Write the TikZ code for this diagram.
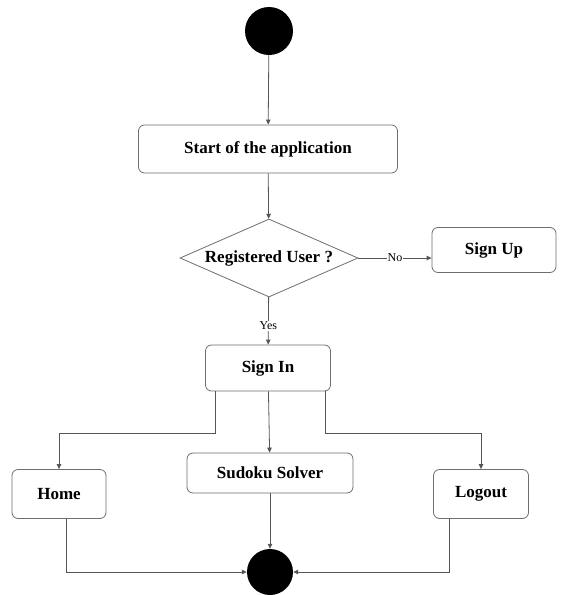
\documentclass[tikz,border=0pt]{standalone}
\usepackage{fontspec}
\setmainfont{Liberation Serif}
\usetikzlibrary{arrows.meta,shapes.geometric}
\definecolor{lineGray}{HTML}{555555}
\definecolor{boxGray}{HTML}{6E6E6E}
\tikzset{
  arr/.style={-{Triangle[length=5pt,width=4.5pt]}, line width=0.8pt, lineGray},
  state/.style={draw=boxGray, fill=white, rounded corners=6pt, line width=0.8pt,
    inner sep=0pt, align=center, font=\fontsize{17}{20}\selectfont\bfseries},
  decision/.style={diamond, draw=boxGray, fill=white, line width=0.8pt, aspect=2.28,
    inner sep=0pt, minimum width=178pt, minimum height=78pt,
    font=\fontsize{17}{20}\selectfont\bfseries},
  dot/.style={circle, fill=black, inner sep=0pt, minimum size=#1},
  tag/.style={fill=white, inner sep=1pt, text=black, font=\fontsize{12}{14}\selectfont}
}
\begin{document}
\begin{tikzpicture}[x=1pt,y=-1pt]
  \useasboundingbox (0,0) rectangle (563,595);
  % states
  \node[dot=48pt] (start) at (269,31) {};
  \node[state, minimum width=259pt, minimum height=48pt] (app) at (268,149) {Start of the application};
  \node[decision] (reg) at (269,258) {Registered User ?};
  \node[state, minimum width=124pt, minimum height=45pt] (signup) at (494,250) {Sign Up};
  \node[state, minimum width=125pt, minimum height=46pt] (signin) at (268,368) {Sign In};
  \node[state, minimum width=94pt, minimum height=49pt] (home) at (59,494) {Home};
  \node[state, minimum width=166pt, minimum height=40pt] (solver) at (270,473) {Sudoku Solver};
  \node[state, minimum width=95pt, minimum height=49pt] (logout) at (481,494) {Logout};
  \node[dot=46pt] (stop) at (270,572) {};
  % bends
  \coordinate (bl) at (215,433);
  \coordinate (br) at (325,433);
  \coordinate (hl) at (66,572);
  \coordinate (lr) at (449,572);
  % flows
  \draw[arr] (start) -- (app);
  \draw[arr] (app) -- (reg);
  \draw[arr] (reg.east) -- node[tag]{No} (reg.east -| signup.west);
  \draw[arr] (reg) -- node[tag, pos=0.6]{Yes} (signin);
  \draw[arr] (signin.south -| bl) -- (bl) -| (home);
  \draw[arr] (signin) -- (solver);
  \draw[arr] (signin.south -| br) -- (br) -| (logout);
  \draw[arr] (solver) -- (stop);
  \draw[arr] (home.south -| hl) -- (hl) -- (stop);
  \draw[arr] (logout.south -| lr) -- (lr) -- (stop);
\end{tikzpicture}
\end{document}
